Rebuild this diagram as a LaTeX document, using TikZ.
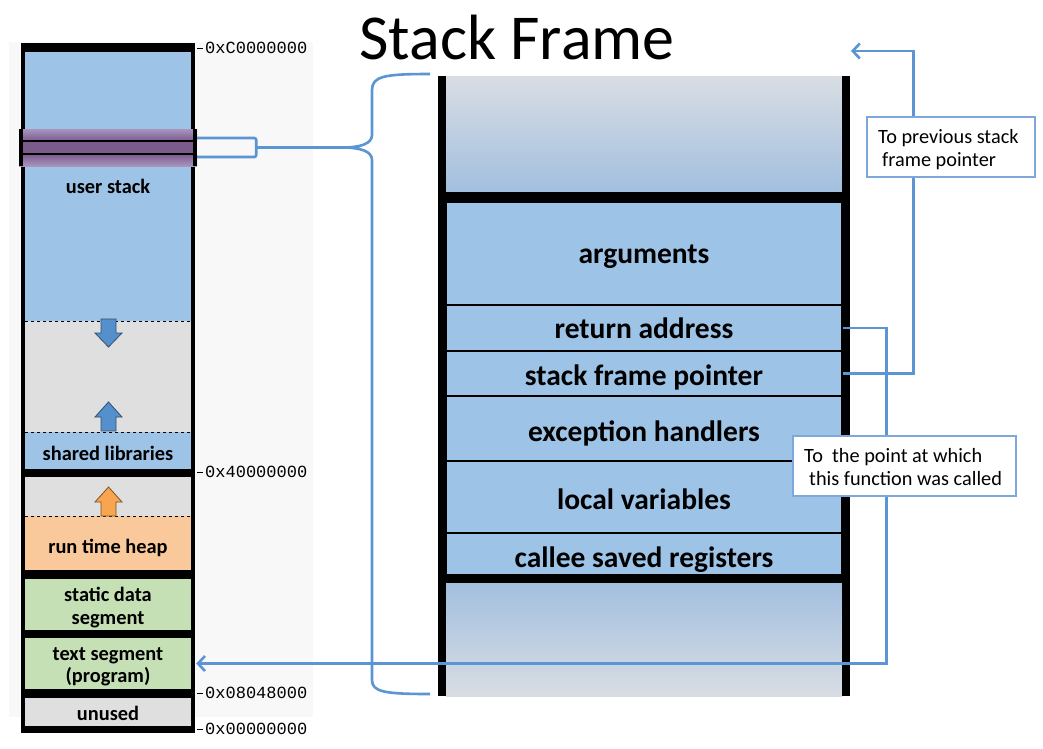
\documentclass[tikz,border=0pt]{standalone}
\usepackage{fontspec}
\setmainfont{Carlito}
\newfontfamily\addrfont{Liberation Mono}
\usetikzlibrary{arrows.meta}
\definecolor{lblue}{HTML}{9DC3E6}
\definecolor{lgray}{HTML}{DFDFDF}
\definecolor{peach}{HTML}{F9C99C}
\definecolor{lgreen}{HTML}{C5E0B4}
\definecolor{panel}{HTML}{F8F8F8}
\definecolor{conn}{HTML}{5B95D3}
\definecolor{boxline}{HTML}{7FA8DA}
\definecolor{fadegray}{HTML}{D9DDE3}
\definecolor{fadeblue}{HTML}{A2BFDF}
\definecolor{purpleA}{HTML}{7B5A8C}
\definecolor{purpleB}{HTML}{A894BE}
\definecolor{arrblue}{HTML}{5590CC}
\definecolor{arrorange}{HTML}{F7A54E}
\begin{document}
\begin{tikzpicture}[x=1pt,y=-1pt,
 region/.style={minimum width=170pt, inner sep=0pt},
 regtext/.style={anchor=base, inner sep=0pt, font=\bfseries\fontsize{20.4}{24}\selectfont},
 slot/.style={draw=black, line width=1.2pt, fill=lblue, minimum width=396pt, inner sep=0pt},
 slottext/.style={anchor=base, inner sep=0pt, font=\bfseries\fontsize{29.5}{34}\selectfont},
 addr/.style={font=\addrfont\fontsize{17}{20}\selectfont, anchor=west, inner sep=0pt},
 link/.style={draw=conn, line width=2.6pt},
 linkarrow/.style={link, -{Straight Barb[length=7pt,width=15pt]}},
 note/.style={draw=boxline, line width=1.5pt, fill=white, inner sep=0pt},
 notetext/.style={anchor=base west, inner sep=0pt, font=\fontsize{20.3}{24}\selectfont},
 growarrow/.style={line width=0.8pt}
]
\useasboundingbox (0,0) rectangle (1043,748);
\fill[white] (0,0) rectangle (1043,748);
\fill[panel] (9,42) rectangle (313,717);

% ---------- memory layout column ----------
\node[region, fill=lblue, minimum height=269pt] (ustack) at (108,186.5) {};
\node[region, fill=lgray, minimum height=111pt] (gap1) at (108,376.5) {};
\node[region, fill=lblue, minimum height=37pt] (shlib) at (108,450.5) {};
\node[region, fill=lgray, minimum height=39pt] (gap2) at (108,496.5) {};
\node[region, fill=peach, minimum height=54pt] (heap) at (108,543) {};
\node[region, fill=lgreen, minimum height=51pt] (static) at (108,604.5) {};
\node[region, fill=lgreen, minimum height=51pt] (textseg) at (108,663.5) {};
\node[region, fill=lgray, minimum height=28pt] (unused) at (108,712) {};

\node[regtext] (ustackT) at (108,193) {user stack};
\node[regtext] (shlibT) at (108,460.5) {shared libraries};
\node[regtext] (heapT) at (108,553) {run time heap};
\node[regtext] (staticT1) at (108,601) {static data};
\node[regtext] (staticT2) at (108,624) {segment};
\node[regtext] (textT1) at (108,660) {text segment};
\node[regtext] (textT2) at (108,682) {(program)};
\node[regtext] (unusedT) at (108,720.5) {unused};

\draw[dashed, line width=0.7pt] (25,321) -- (191,321);
\draw[dashed, line width=0.7pt] (25,432) -- (191,432);
\draw[dashed, line width=0.7pt] (25,516) -- (191,516);

\fill[black] (21,43) rectangle (195,52);
\fill[black] (21,469) rectangle (195,477);
\fill[black] (21,570) rectangle (195,579);
\fill[black] (21,630) rectangle (195,638);
\fill[black] (21,689) rectangle (195,698);
\fill[black] (21,726) rectangle (195,733);
\draw[line width=4pt] (23,43) -- (23,733);
\draw[line width=4pt] (193,43) -- (193,733);

% purple band (current frame)
\shade[top color=purpleB, bottom color=purpleA] (19,129) rectangle (197,141);
\fill[purpleA] (19,141) rectangle (197,154);
\shade[top color=purpleA, bottom color=purpleB] (19,154) rectangle (197,166);
\draw[line width=1.2pt] (19,141) -- (197,141);
\draw[line width=1.2pt] (19,154) -- (197,154);
\fill[black] (19,129) rectangle (23,166);
\fill[black] (193,129) rectangle (197,166);
\node[minimum width=178pt, minimum height=37pt, inner sep=0pt] (band) at (108,147.5) {};

% growth arrows
\filldraw[fill=arrblue, draw=arrblue!55!black, growarrow] (101,319) -- (116,319) -- (116,333) -- (122,333) -- (108.5,347) -- (95,333) -- (101,333) -- cycle;
\filldraw[fill=arrblue, draw=arrblue!55!black, growarrow] (101,431) -- (116,431) -- (116,417) -- (122,417) -- (108.5,402) -- (95,417) -- (101,417) -- cycle;
\filldraw[fill=arrorange, draw=arrorange!50!black, growarrow] (101,516) -- (116,516) -- (116,502) -- (122,502) -- (108.5,487) -- (95,502) -- (101,502) -- cycle;

% addresses
\draw[line width=0.8pt] (197,48) -- (203,48);
\node[addr] (a1) at (205,48) {0xC0000000};
\draw[line width=0.8pt] (197,472) -- (203,472);
\node[addr] (a2) at (205,472) {0x40000000};
\draw[line width=0.8pt] (197,693) -- (203,693);
\node[addr] (a3) at (205,693) {0x08048000};
\draw[line width=0.8pt] (197,729) -- (203,729);
\node[addr] (a4) at (205,729) {0x00000000};

% ---------- title ----------
\node[font=\fontsize{64}{70}\selectfont, anchor=base, inner sep=0pt] (title) at (517,59) {Stack Frame};

% ---------- stack frame ----------
\shade[top color=fadegray, bottom color=fadeblue] (446,76) rectangle (842,192);
\node[slot, minimum height=103pt] (args) at (644,253.5) {};
\node[slot, minimum height=46pt] (ret) at (644,328) {};
\node[slot, minimum height=45pt] (sfp) at (644,373.5) {};
\node[slot, minimum height=65pt] (exc) at (644,428.5) {};
\node[slot, minimum height=72pt] (local) at (644,497) {};
\node[slot, minimum height=42pt] (callee) at (644,554) {};
\node[slottext] (argsT) at (644,263) {arguments};
\node[slottext] (retT) at (644,338) {return address};
\node[slottext] (sfpT) at (644,385) {stack frame pointer};
\node[slottext] (excT) at (644,441) {exception handlers};
\node[slottext] (localT) at (644,509) {local variables};
\node[slottext] (calleeT) at (644,567.5) {callee saved registers};
\shade[top color=fadeblue, bottom color=fadegray] (446,583) rectangle (842,696);
\fill[black] (438,192) rectangle (850,202);
\fill[black] (438,575) rectangle (850,583);
\fill[black] (438,76) rectangle (446,696);
\fill[black] (842,76) rectangle (850,696);

% ---------- brace and links ----------
\coordinate (bk) at (256,147.5);
\coordinate (bracetip) at (342,147.5);
\draw[link, rounded corners=2pt] (band.east) ++(0,-9.5) -- ++(59,0) -- ++(0,19) -- ++(-59,0);
\draw[link] (bk) -- (bracetip);
\draw[link] (430,74) .. controls (385,74) and (372,76) .. (372,90) -- (372,135)
  .. controls (372,144) and (360,147.5) .. (bracetip)
  .. controls (360,147.5) and (372,151) .. (372,160) -- (372,680)
  .. controls (372,692) and (385,694) .. (430,694);

\coordinate (prevfp) at (851,51);
\draw[linkarrow] (sfp.east) -- ++(71,0) |- (prevfp);
\draw[linkarrow] (ret.east) -- ++(44,0) |- ([xshift=3pt]textseg.east);

\node[note, minimum width=168pt, minimum height=60pt] (n1) at (951,147) {};
\node[notetext] (n1a) at (878,143) {To previous stack};
\node[notetext] (n1b) at (882,166) {frame pointer};
\node[note, minimum width=223pt, minimum height=60pt] (n2) at (904.5,466) {};
\node[notetext] (n2a) at (804,462) {To\ \ the point at which};
\node[notetext] (n2b) at (809,485) {this function was called};
\end{tikzpicture}
\end{document}
